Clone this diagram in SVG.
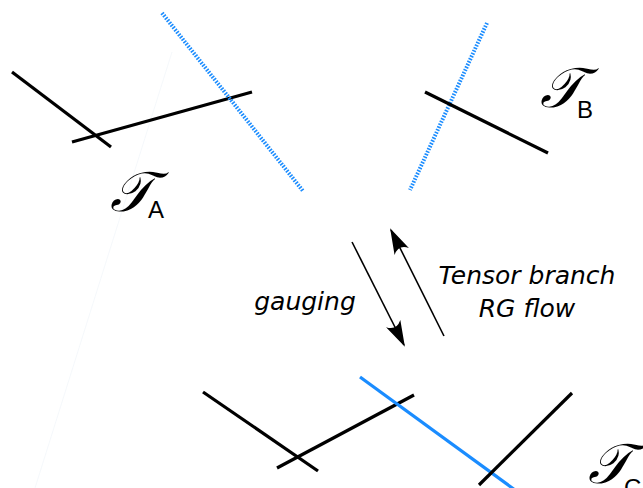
<svg xmlns="http://www.w3.org/2000/svg" width="643" height="488" viewBox="0 0 643 488">
<style>
.k{stroke:#000;stroke-width:3.2;fill:none;stroke-linecap:butt}
.bd{stroke:#1a8cff;stroke-width:4;fill:none;stroke-dasharray:1.6 1.4}
.bs{stroke:#1a8cff;stroke-width:3.2;fill:none}
.ar{stroke:#000;stroke-width:1.6;fill:none}
.T{font-family:"DejaVu Serif","Liberation Serif",serif;font-style:italic;font-size:56px;fill:#000}
.s{font-family:"Liberation Sans",Arial,sans-serif;font-size:24px;fill:#000}
.l{font-family:"DejaVu Sans",sans-serif;font-style:italic;font-size:25px;fill:#000}
</style>
<defs>
<marker id="ah" viewBox="0 0 26 16" refX="24" refY="8" markerWidth="26" markerHeight="16" markerUnits="userSpaceOnUse" orient="auto">
<path d="M0,0 L26,8 L0,16 Q8,8 0,0 Z" fill="#000"/>
</marker>
</defs>
<rect width="643" height="488" fill="#fff"/>
<line x1="172" y1="52" x2="35" y2="488" stroke="#eef3f8" stroke-width="0.6"/>
<g id="TA">
<line class="k" x1="12" y1="72" x2="111" y2="147"/>
<line class="k" x1="72" y1="142" x2="252" y2="92"/>
<line class="bd" x1="162" y1="13" x2="303" y2="191"/>
<text class="T" x="110" y="211">𝒯</text>
<text class="s" x="148" y="218">A</text>
</g>
<g id="TB">
<line class="bd" x1="487" y1="23" x2="410" y2="190"/>
<line class="k" x1="425" y1="92" x2="548" y2="153"/>
<text class="T" x="540" y="107">𝒯</text>
<text class="s" x="577" y="118">B</text>
</g>
<g id="TC">
<line class="k" x1="203" y1="392" x2="318" y2="471"/>
<line class="k" x1="277" y1="468" x2="414" y2="395"/>
<line class="bs" x1="360" y1="377" x2="515" y2="490"/>
<line class="k" x1="572" y1="393" x2="479" y2="485"/>
<text class="T" x="588" y="483">𝒯</text>
<text class="s" x="624" y="496">C</text>
</g>
<g id="connectors">
<line class="ar" x1="352" y1="242" x2="404" y2="345" marker-end="url(#ah)"/>
<line class="ar" x1="444" y1="336" x2="391" y2="230" marker-end="url(#ah)"/>
</g>
<text class="l" x="305" y="310" text-anchor="middle">gauging</text>
<text class="l" x="527" y="284" text-anchor="middle">Tensor branch</text>
<text class="l" x="527" y="317" text-anchor="middle">RG flow</text>
</svg>
